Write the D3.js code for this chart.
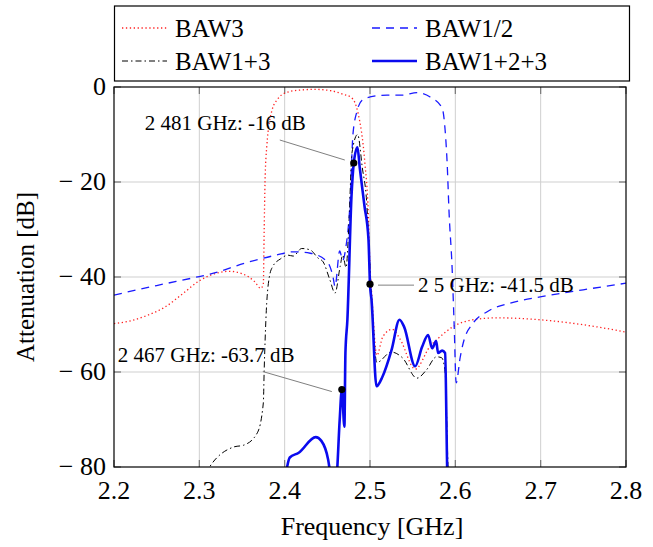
<!DOCTYPE html>
<html>
<head>
<meta charset="utf-8">
<title>BAW filter attenuation</title>
<script src="https://d3js.org/d3.v7.min.js"></script>
<style>
  body { margin: 0; background: #fff; }
  svg { font-family: "Liberation Serif", "Times New Roman", serif; }
</style>
</head>
<body>
<svg width="653" height="547"></svg>
<script>
// ---- data (frequency in GHz, attenuation in dB) ----
var xTicks = [2.2, 2.3, 2.4, 2.5, 2.6, 2.7, 2.8];
var yTicks = [0, -20, -40, -60, -80];

var baw3F = [2.200, 2.220, 2.240, 2.260, 2.280, 2.300, 2.320, 2.335, 2.350, 2.365, 2.372, 2.375, 2.376, 2.377, 2.379, 2.385, 2.392, 2.400, 2.415, 2.435, 2.455, 2.468, 2.478, 2.486, 2.494, 2.498, 2.500, 2.502, 2.508, 2.515, 2.526, 2.535, 2.553, 2.570, 2.582, 2.597, 2.621, 2.649, 2.699, 2.766, 2.800];
var baw3V = [-49.8, -49.2, -48.0, -46.3, -43.6, -40.8, -39.2, -38.8, -39.3, -41.0, -42.4, -41.5, -30, -20, -12.6, -5, -2.5, -1.3, -0.7, -0.5, -0.8, -1.5, -2.2, -5.5, -16, -26.5, -38, -43.5, -56.5, -52.6, -51.0, -53.0, -59.4, -54.7, -52.6, -50.5, -49.0, -48.6, -49.0, -50.5, -51.6];

var baw12F = [2.200, 2.250, 2.300, 2.3125, 2.355, 2.390, 2.410, 2.430, 2.450, 2.4567, 2.459, 2.4645, 2.468, 2.4715, 2.4767, 2.480, 2.4849, 2.4907, 2.500, 2.520, 2.5376, 2.5552, 2.5705, 2.5845, 2.588, 2.5904, 2.5927, 2.5962, 2.5986, 2.601, 2.6056, 2.6091, 2.6209, 2.6373, 2.6642, 2.6994, 2.7498, 2.800];
var baw12V = [-43.8, -41.8, -39.9, -39.4, -37.0, -35.4, -34.7, -35.0, -36.8, -40.0, -42.0, -34.5, -36.5, -34.0, -24, -10, -5, -2.8, -2.1, -1.7, -1.7, -1.2, -2.1, -4.4, -9, -16, -26.6, -38, -50, -62.3, -57, -54, -49.7, -47.3, -45.5, -44.2, -42.7, -41.3];

var baw13F = [2.300, 2.312, 2.340, 2.352, 2.368, 2.375, 2.376, 2.378, 2.382, 2.386, 2.395, 2.404, 2.410, 2.420, 2.430, 2.439, 2.445, 2.453, 2.459, 2.465, 2.468, 2.472, 2.475, 2.479, 2.4855, 2.491, 2.496, 2.500, 2.503, 2.508, 2.525, 2.538, 2.555, 2.566, 2.578, 2.584, 2.588, 2.5915, 2.593];
var baw13V = [-84, -80, -75.8, -75.4, -72.8, -66.5, -59.6, -49, -40, -37.8, -36.2, -35.4, -35.6, -34.0, -34.3, -36.0, -36.8, -40.6, -43.4, -37.8, -35.4, -38, -30, -13.7, -10, -17, -24, -38, -48, -58, -55.8, -57, -61.3, -59.6, -56.8, -57, -60, -80, -85];

var baw123F = [2.400, 2.406, 2.4165, 2.4364, 2.443, 2.451, 2.454, 2.458, 2.461, 2.4645, 2.467, 2.470, 2.4712, 2.4735, 2.4783, 2.481, 2.4853, 2.488, 2.4935, 2.4982, 2.500, 2.5018, 2.5076, 2.5146, 2.5252, 2.5346, 2.540, 2.5529, 2.5611, 2.5681, 2.5728, 2.5775, 2.5798, 2.5845, 2.588, 2.5904, 2.591];
var baw123V = [-83, -78, -77, -73.7, -74.5, -78.5, -82, -85, -82, -70, -63.7, -71.5, -56, -49, -23, -16, -12.7, -17, -25, -32, -41.5, -44.8, -63, -61, -55.4, -49, -50.5, -58.8, -54.7, -52.2, -55, -53.5, -56, -55.5, -56, -80, -85];

var seriesNames = ["BAW3", "BAW1/2", "BAW1+3", "BAW1+2+3"];

var markerF = [2.481, 2.467, 2.5];
var markerV = [-16, -63.7, -41.5];
var markerLabels = ["2 481 GHz: -16 dB", "2 467 GHz: -63.7 dB", "2 5 GHz: -41.5 dB"];

// ---- layout / styling ----
var svg = d3.select("svg");
var pLeft = 114, pRight = 626, pTop = 87, pBottom = 467;
var x = d3.scaleLinear().domain([2.2, 2.8]).range([pLeft, pRight]);
var y = d3.scaleLinear().domain([-80, 0]).range([pBottom, pTop]);

var styles = [
  { color: "#ff2020", width: 1.3, dash: "1.3 2.6" },
  { color: "#1a1aff", width: 1.3, dash: "8 6" },
  { color: "#000", width: 1, dash: "6 3 1.5 3" },
  { color: "#0a0aee", width: 2.6, dash: null }
];

// grid
var grid = svg.append("g");
grid.selectAll(".gx").data(xTicks.slice(1, -1)).enter().append("line")
  .attr("x1", d => x(d)).attr("x2", d => x(d))
  .attr("y1", pTop).attr("y2", pBottom)
  .attr("stroke", "#cfcfcf").attr("stroke-width", 1);
grid.selectAll(".gy").data(yTicks.slice(1, -1)).enter().append("line")
  .attr("y1", d => y(d)).attr("y2", d => y(d))
  .attr("x1", pLeft).attr("x2", pRight)
  .attr("stroke", "#cfcfcf").attr("stroke-width", 1);

// inner tick marks on all four sides
var tickLen = 7;
[[pBottom, -1], [pTop, 1]].forEach(function (s) {
  svg.append("g").selectAll("line").data(xTicks).enter().append("line")
    .attr("x1", d => x(d)).attr("x2", d => x(d))
    .attr("y1", s[0]).attr("y2", s[0] + s[1] * tickLen)
    .attr("stroke", "#777").attr("stroke-width", 1.2);
});
[[pLeft, 1], [pRight, -1]].forEach(function (s) {
  svg.append("g").selectAll("line").data(yTicks).enter().append("line")
    .attr("y1", d => y(d)).attr("y2", d => y(d))
    .attr("x1", s[0]).attr("x2", s[0] + s[1] * tickLen)
    .attr("stroke", "#777").attr("stroke-width", 1.2);
});

// curves
svg.append("clipPath").attr("id", "plotclip").append("rect")
  .attr("x", pLeft).attr("y", pTop).attr("width", pRight - pLeft).attr("height", pBottom - pTop);

var line = d3.line().x(d => x(d[0])).y(d => y(d[1])).curve(d3.curveMonotoneX);
var allSeries = [
  d3.zip(baw3F, baw3V),
  d3.zip(baw12F, baw12V),
  d3.zip(baw13F, baw13V),
  d3.zip(baw123F, baw123V)
];
var curves = svg.append("g").attr("clip-path", "url(#plotclip)");
allSeries.forEach(function (pts, i) {
  curves.append("path").datum(pts)
    .attr("d", line)
    .attr("fill", "none")
    .attr("stroke", styles[i].color)
    .attr("stroke-width", styles[i].width)
    .attr("stroke-dasharray", styles[i].dash)
    .attr("stroke-linejoin", "round");
});

// frame
svg.append("rect").attr("x", pLeft).attr("y", pTop)
  .attr("width", pRight - pLeft).attr("height", pBottom - pTop)
  .attr("fill", "none").attr("stroke", "#000").attr("stroke-width", 1.2);

// annotations: label offsets relative to the marker
var labelPos = [
  { tx: -209, ty: -33, lx1: -74, ly1: -23, lx2: -9, ly2: -3 },
  { tx: -224, ty: -28, lx1: -79, ly1: -18, lx2: -10, ly2: 2 },
  { tx: 48, ty: 8, lx1: 8, ly1: 1, lx2: 44, ly2: 1 }
];
markerF.forEach(function (f, i) {
  var px = x(f), py = y(markerV[i]), p = labelPos[i];
  svg.append("line")
    .attr("x1", px + p.lx1).attr("y1", py + p.ly1)
    .attr("x2", px + p.lx2).attr("y2", py + p.ly2)
    .attr("stroke", "#808080").attr("stroke-width", 1);
  svg.append("circle").attr("cx", px).attr("cy", py).attr("r", 3.6).attr("fill", "#000");
  svg.append("text").attr("x", px + p.tx).attr("y", py + p.ty)
    .attr("font-size", 21).attr("fill", "#000").text(markerLabels[i]);
});

// tick labels
svg.append("g").selectAll("text").data(xTicks).enter().append("text")
  .attr("x", d => x(d)).attr("y", pBottom + 32)
  .attr("text-anchor", "middle").attr("font-size", 26)
  .text(d => d3.format(".1f")(d));
svg.append("g").selectAll("text").data(yTicks).enter().append("text")
  .attr("x", pLeft - 8).attr("y", d => y(d) + 8)
  .attr("text-anchor", "end").attr("font-size", 26)
  .text(d => d < 0 ? "\u2212 " + Math.abs(d) : String(d));

// axis titles
svg.append("text").attr("x", (pLeft + pRight) / 2 + 2).attr("y", 535)
  .attr("text-anchor", "middle").attr("font-size", 26).text("Frequency [GHz]");
svg.append("text").attr("transform", "translate(34," + ((pTop + pBottom) / 2) + ") rotate(-90)")
  .attr("text-anchor", "middle").attr("font-size", 25).text("Attenuation [dB]");

// legend
var lg = svg.append("g");
lg.append("rect").attr("x", 114.5).attr("y", 6).attr("width", 515).attr("height", 75)
  .attr("fill", "#fff").attr("stroke", "#000").attr("stroke-width", 1.2);
var legendCols = [122, 372], legendRows = [28, 61];
seriesNames.forEach(function (name, i) {
  var cx = legendCols[i % 2], cy = legendRows[Math.floor(i / 2)];
  lg.append("line").attr("x1", cx).attr("x2", cx + 45).attr("y1", cy).attr("y2", cy)
    .attr("stroke", styles[i].color).attr("stroke-width", styles[i].width)
    .attr("stroke-dasharray", styles[i].dash);
  lg.append("text").attr("x", cx + 53).attr("y", cy + 8.5)
    .attr("font-size", 25).text(name);
});
</script>
</body>
</html>
